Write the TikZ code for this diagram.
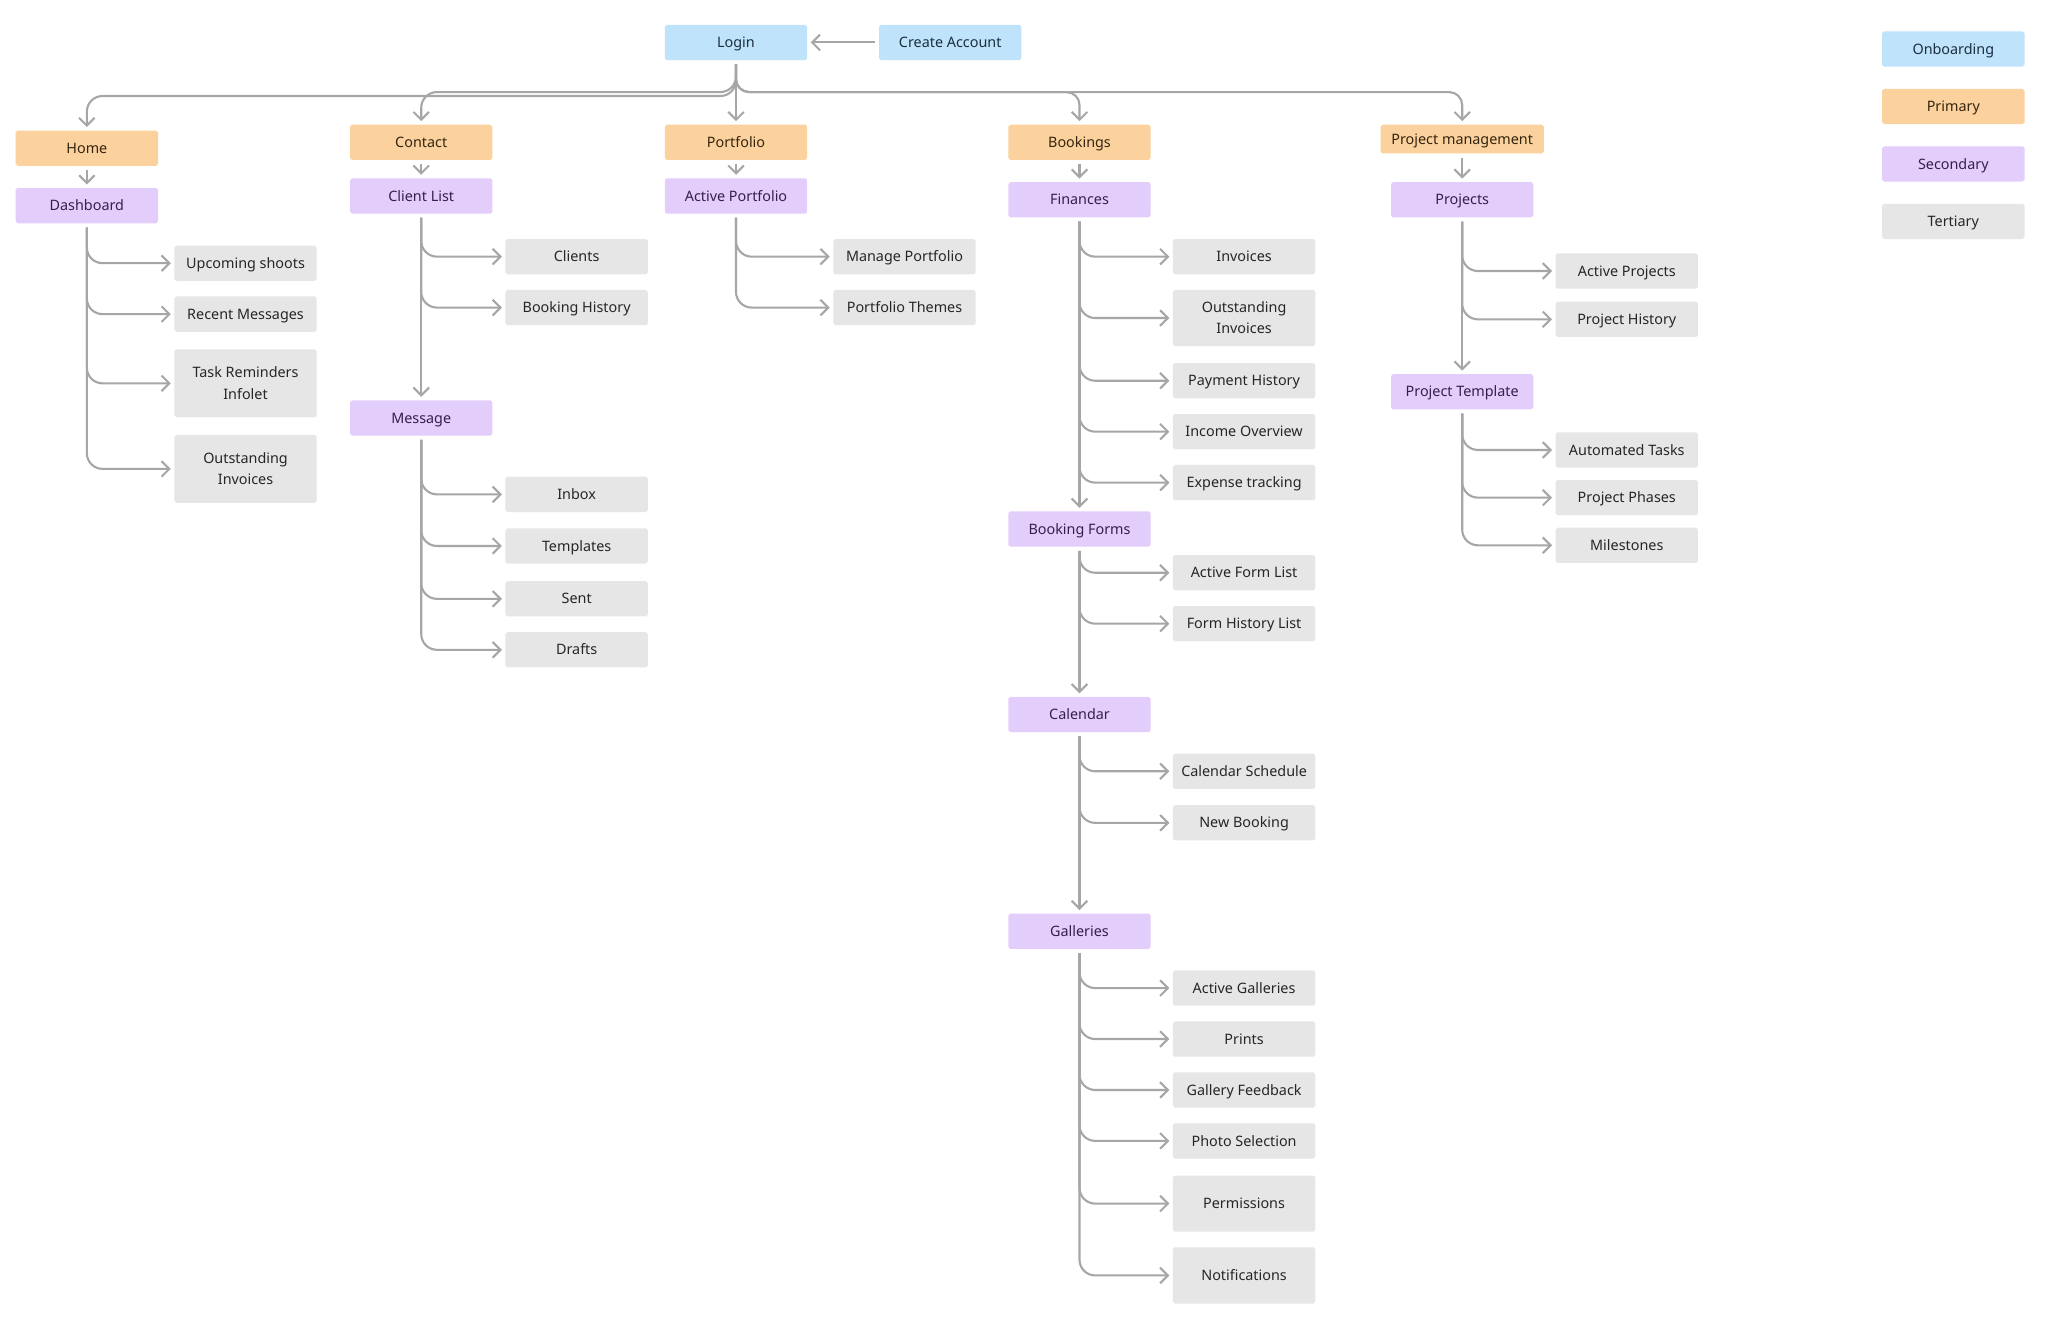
\documentclass[tikz,border=0pt]{standalone}
\usepackage{fontspec}
\setmainfont{Noto Sans}
\usepackage{tikz}
\usetikzlibrary{arrows.meta}

\definecolor{onbfill}{HTML}{BEE3FA}
\definecolor{primfill}{HTML}{FBD19D}
\definecolor{secfill}{HTML}{E3CDFB}
\definecolor{terfill}{HTML}{E6E6E6}
\definecolor{onbtext}{HTML}{1A2E40}
\definecolor{primtext}{HTML}{35250F}
\definecolor{sectext}{HTML}{34204A}
\definecolor{tertext}{HTML}{262626}
\definecolor{linkgray}{HTML}{A6A6A6}

\tikzset{
    box/.style={rounded corners=1.5pt, minimum width=109pt, minimum height=27pt, inner sep=2pt,
        align=center, font=\fontsize{11}{16.5}\selectfont, text height=8pt, text depth=0.2pt},
    twolines/.style={text height=24.5pt},
    onb/.style={box, fill=onbfill, text=onbtext},
    prim/.style={box, fill=primfill, text=primtext},
    sec/.style={box, fill=secfill, text=sectext},
    ter/.style={box, fill=terfill, text=tertext},
    link/.style={draw=linkgray, line width=1.6pt, -{Straight Barb[length=6pt,width=12pt]},
        shorten >=2.5pt, shorten <=3pt},
    branch/.style={link, rounded corners=12pt},
}

\begin{document}
\begin{tikzpicture}[x=1pt,y=-1pt]
                \useasboundingbox[fill=white] (0,0) rectangle (1568,1011);

                \node[onb] (login) at (563.5,32.5) {Login};
                \node[onb] (newacc) at (727.5,32.5) {Create Account};

                \node[prim] (home) at (66.5,113.5) {Home};
                \node[prim] (contact) at (322.5,109) {Contact};
                \node[prim] (portfolio) at (563.5,109) {Portfolio};
                \node[prim] (bookings) at (826.5,109) {Bookings};
                \node[prim, minimum width=125pt, minimum height=22pt] (projmgmt) at (1119.5,106.5) {Project management};

                \node[sec] (dashboard) at (66.5,157.5) {Dashboard};
                \node[sec] (clientlist) at (322.5,150) {Client List};
                \node[sec] (message) at (322.5,320) {Message};
                \node[sec] (activeport) at (563.5,150) {Active Portfolio};
                \node[sec] (finances) at (826.5,153) {Finances};
                \node[sec] (bookforms) at (826.5,405) {Booking Forms};
                \node[sec] (calendar) at (826.5,547) {Calendar};
                \node[sec] (galleries) at (826.5,713) {Galleries};
                \node[sec] (projects) at (1119.5,153) {Projects};
                \node[sec] (projtempl) at (1119.5,300) {Project Template};

                \node[ter] (upcoming) at (188,201.5) {Upcoming shoots};
                \node[ter] (recentmsg) at (188,240.5) {Recent Messages};
                \node[ter, twolines, minimum height=52pt] (taskrem) at (188,293.5) {Task Reminders\\Infolet};
                \node[ter, twolines, minimum height=52pt] (outinvhome) at (188,359) {Outstanding\\Invoices};

                \node[ter] (clients) at (441.5,196.5) {Clients};
                \node[ter] (bookhist) at (441.5,235.5) {Booking History};
                \node[ter] (inbox) at (441.5,378.5) {Inbox};
                \node[ter] (templates) at (441.5,418) {Templates};
                \node[ter] (sent) at (441.5,458.5) {Sent};
                \node[ter] (drafts) at (441.5,497.5) {Drafts};

                \node[ter] (manageport) at (692.5,196.5) {Manage Portfolio};
                \node[ter] (portthemes) at (692.5,235.5) {Portfolio Themes};

                \node[ter] (invoices) at (952.5,196.5) {Invoices};
                \node[ter, twolines, minimum height=43pt] (outinv) at (952.5,243.5) {Outstanding\\Invoices};
                \node[ter] (payhist) at (952.5,291.5) {Payment History};
                \node[ter] (income) at (952.5,330.5) {Income Overview};
                \node[ter] (expense) at (952.5,369.5) {Expense tracking};
                \node[ter] (activeform) at (952.5,438.5) {Active Form List};
                \node[ter] (formhist) at (952.5,477.5) {Form History List};
                \node[ter] (calsched) at (952.5,590.5) {Calendar Schedule};
                \node[ter] (newbooking) at (952.5,630) {New Booking};
                \node[ter] (activegal) at (952.5,756.5) {Active Galleries};
                \node[ter] (prints) at (952.5,795.5) {Prints};
                \node[ter] (galfeed) at (952.5,834.5) {Gallery Feedback};
                \node[ter] (photosel) at (952.5,873.5) {Photo Selection};
                \node[ter, minimum height=43pt] (permissions) at (952.5,921.5) {Permissions};
                \node[ter, minimum height=43pt] (notify) at (952.5,976.5) {Notifications};

                \node[ter] (activeproj) at (1245.5,207.5) {Active Projects};
                \node[ter] (projhist) at (1245.5,244.5) {Project History};
                \node[ter] (autotasks) at (1245.5,344.5) {Automated Tasks};
                \node[ter] (phases) at (1245.5,381) {Project Phases};
                \node[ter] (milestones) at (1245.5,417.5) {Milestones};

                \node[onb] (lgonb) at (1495.5,37.5) {Onboarding};
                \node[prim] (lgprim) at (1495.5,81.5) {Primary};
                \node[sec] (lgsec) at (1495.5,125.5) {Secondary};
                \node[ter] (lgter) at (1495.5,169.5) {Tertiary};

                \coordinate (forkhigh) at (0,70.5);
                \coordinate (forklow) at (0,73.5);

                \draw[link] (newacc.west) -- (login.east);
                \draw[branch] (login.south) |- (home.north |- forklow) -- (home.north);
                \draw[branch] (login.south) |- (contact.north |- forkhigh) -- (contact.north);
                \draw[link] (login.south) -- (portfolio.north);
                \draw[branch, rounded corners=10pt] (login.south) |- (bookings.north |- forkhigh) -- (bookings.north);
                \draw[branch, rounded corners=10pt] (login.south) |- (projmgmt.north |- forkhigh) -- (projmgmt.north);

                \draw[link] (home.south) -- (dashboard.north);
                \draw[link] (contact.south) -- (clientlist.north);
                \draw[link] (portfolio.south) -- (activeport.north);
                \draw[link] (bookings.south) -- (finances.north);
                \draw[link] (projmgmt.south) -- (projects.north);

                \draw[branch] (dashboard.south) |- (upcoming.west);
                \draw[branch] (dashboard.south) |- (recentmsg.west);
                \draw[branch] (dashboard.south) |- (taskrem.west);
                \draw[branch] (dashboard.south) |- (outinvhome.west);

                \draw[branch] (clientlist.south) |- (clients.west);
                \draw[branch] (clientlist.south) |- (bookhist.west);
                \draw[link] (clientlist.south) -- (message.north);
                \draw[branch] (message.south) |- (inbox.west);
                \draw[branch] (message.south) |- (templates.west);
                \draw[branch] (message.south) |- (sent.west);
                \draw[branch] (message.south) |- (drafts.west);

                \draw[branch] (activeport.south) |- (manageport.west);
                \draw[branch] (activeport.south) |- (portthemes.west);

                \draw[branch] (finances.south) |- (invoices.west);
                \draw[branch] (finances.south) |- (outinv.west);
                \draw[branch] (finances.south) |- (payhist.west);
                \draw[branch] (finances.south) |- (income.west);
                \draw[branch] (finances.south) |- (expense.west);
                \draw[link] (finances.south) -- (bookforms.north);
                \draw[branch] (bookforms.south) |- (activeform.west);
                \draw[branch] (bookforms.south) |- (formhist.west);
                \draw[link] (bookforms.south) -- (calendar.north);
                \draw[branch] (calendar.south) |- (calsched.west);
                \draw[branch] (calendar.south) |- (newbooking.west);
                \draw[link] (calendar.south) -- (galleries.north);
                \draw[branch] (galleries.south) |- (activegal.west);
                \draw[branch] (galleries.south) |- (prints.west);
                \draw[branch] (galleries.south) |- (galfeed.west);
                \draw[branch] (galleries.south) |- (photosel.west);
                \draw[branch] (galleries.south) |- (permissions.west);
                \draw[branch] (galleries.south) |- (notify.west);

                \draw[branch] (projects.south) |- (activeproj.west);
                \draw[branch] (projects.south) |- (projhist.west);
                \draw[link] (projects.south) -- (projtempl.north);
                \draw[branch] (projtempl.south) |- (autotasks.west);
                \draw[branch] (projtempl.south) |- (phases.west);
                \draw[branch] (projtempl.south) |- (milestones.west);
\end{tikzpicture}
\end{document}
